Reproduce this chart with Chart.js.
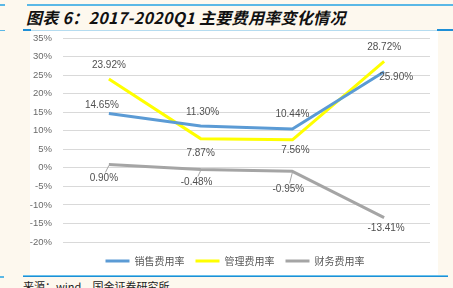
<!DOCTYPE html>
<html><head><meta charset="utf-8">
<script src="https://cdn.jsdelivr.net/npm/chart.js@4"></script>
<style>
html,body{margin:0;padding:0;}
body{width:453px;height:288px;background:#fdf8ee;position:relative;overflow:hidden;font-family:"Noto Sans CJK SC",sans-serif;}
.b{position:absolute;}
#title{position:absolute;left:26px;top:5px;font-size:16px;font-weight:bold;font-style:italic;color:#111;white-space:nowrap;letter-spacing:0.3px;}
#src{position:absolute;left:23px;top:278px;font-size:11px;color:#222;white-space:nowrap;}
#c{position:absolute;left:0;top:0;}
</style></head>
<body>
<div class="b" style="left:0;top:4px;width:5px;height:2px;background:#5ab8e6"></div>
<div class="b" style="left:27px;top:4px;width:426px;height:2px;background:#5ab8e6"></div>
<div id="title">图表 6：2017-2020Q1 主要费用率变化情况</div>
<div class="b" style="left:0;top:30px;width:5px;height:1px;background:#5ab8e6"></div>
<div class="b" style="left:30px;top:31px;width:408px;height:244px;background:#ffffff"></div>
<div class="b" style="left:30px;top:30px;width:407px;height:1px;background:#b5dcf0"></div>
<div class="b" style="left:23px;top:29px;width:8px;height:2px;background:#1e8fd6"></div>
<div class="b" style="left:437px;top:29px;width:16px;height:2px;background:#1e8fd6"></div>
<div class="b" style="left:0;top:276px;width:4px;height:2px;background:#5ab8e6"></div>
<div class="b" style="left:23px;top:275px;width:425px;height:1px;background:#6cc3ec"></div>
<div class="b" style="left:23px;top:276px;width:425px;height:1px;background:#1e8fd6"></div>
<div id="src">来源：wind，国金证券研究所</div>
<canvas id="c" width="453" height="288"></canvas>
<script>
const categories = ["2017", "2018", "2019", "2020Q1"];
const salesRate = [14.65, 11.30, 10.44, 25.90];
const mgmtRate = [23.92, 7.87, 7.56, 28.72];
const finRate = [0.90, -0.48, -0.95, -13.41];
const seriesNames = ["销售费用率", "管理费用率", "财务费用率"];
const yTicks = [35, 30, 25, 20, 15, 10, 5, 0, -5, -10, -15, -20];

// label offsets (dx, dy) relative to each point
const labelOffsets = [
  [[-7,-8],[2,-14],[0,-15],[12,5]],
  [[0,-14],[0,15],[3,10],[0,-14]],
  [[-5,14],[-4,13],[-4,18],[2,11]]
];
const leaders = [[false,false,false,false],[false,false,false,false],[true,true,true,false]];

const colors = ["#5b9bd5", "#ffff00", "#a5a5a5"];

const labelPlugin = {
  id: 'valueLabels',
  afterDatasetsDraw(chart) {
    const ctx = chart.ctx;
    ctx.save();
    ctx.font = '10px "Liberation Sans", Arial, sans-serif';
    ctx.fillStyle = '#505050';
    ctx.textAlign = 'center';
    ctx.textBaseline = 'middle';
    chart.data.datasets.forEach((ds, di) => {
      const meta = chart.getDatasetMeta(di);
      meta.data.forEach((pt, i) => {
        const [dx, dy] = labelOffsets[di][i];
        const lx = pt.x + dx, ly = pt.y + dy;
        if (leaders[di][i]) {
          ctx.strokeStyle = '#a6a6a6';
          ctx.lineWidth = 1;
          ctx.beginPath();
          ctx.moveTo(pt.x, pt.y + 1);
          ctx.lineTo(lx + (pt.x - lx) * 0.3, ly - 6);
          ctx.stroke();
        }
        ctx.fillText(ds.data[i].toFixed(2) + '%', lx, ly);
      });
    });
    ctx.restore();
  }
};

const legendShift = {
  id: 'legendShift',
  afterLayout(chart) {
    if (chart.legend) {
      chart.legend.left += 20; chart.legend.right += 20;
      chart.legend.top += 3; chart.legend.bottom += 3;
    }
  }
};

new Chart(document.getElementById('c'), {
  type: 'line',
  data: {
    labels: categories,
    datasets: [
      {label: seriesNames[0], data: salesRate, borderColor: colors[0], backgroundColor: colors[0]},
      {label: seriesNames[1], data: mgmtRate, borderColor: colors[1], backgroundColor: colors[1]},
      {label: seriesNames[2], data: finRate, borderColor: colors[2], backgroundColor: colors[2]}
    ]
  },
  options: {
    responsive: false,
    animation: false,
    devicePixelRatio: 1,
    layout: {padding: {top: 38, left: 0, right: 23, bottom: 15}},
    elements: {
      line: {borderWidth: 3, tension: 0, borderJoinStyle: 'round'},
      point: {radius: 0, hoverRadius: 0}
    },
    scales: {
      x: {display: false, offset: true},
      y: {
        min: -20, max: 35,
        afterFit(scale) { scale.width = 63; },
        afterBuildTicks(scale) { scale.ticks = yTicks.map(v => ({value: v})); },
        border: {display: false},
        grid: {color: '#d9d9d9', lineWidth: 1, drawTicks: false},
        ticks: {
          padding: 11,
          color: '#6a6a6a',
          font: {family: '"Liberation Sans", Arial, sans-serif', size: 9.5},
          callback: v => v + '%'
        }
      }
    },
    plugins: {
      tooltip: {enabled: false},
      legend: {
        position: 'bottom',
        labels: {
          boxWidth: 24,
          boxHeight: 3,
          padding: 11,
          color: '#595959',
          font: {family: '"Noto Sans CJK SC", sans-serif', size: 10},
          generateLabels(chart) {
            return Chart.defaults.plugins.legend.labels.generateLabels(chart).map(l => Object.assign(l, {lineWidth: 0, fillStyle: l.strokeStyle}));
          }
        }
      }
    }
  },
  plugins: [labelPlugin, legendShift]
});
</script>
</body></html>
